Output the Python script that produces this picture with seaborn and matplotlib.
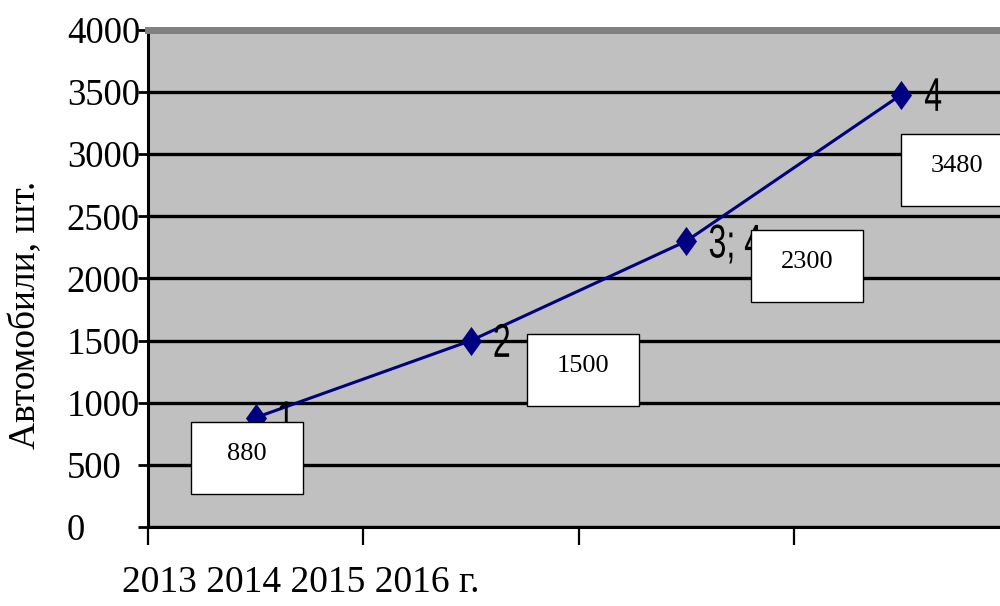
import numpy as np
import pandas as pd
import matplotlib
matplotlib.use("Agg")
import matplotlib.pyplot as plt
import seaborn as sns
from matplotlib.offsetbox import DrawingArea, AnnotationBbox
from matplotlib.patches import Rectangle, PathPatch
from matplotlib.text import Text
from matplotlib.textpath import TextPath
from matplotlib.font_manager import FontProperties
from matplotlib.transforms import Affine2D

years = ["2013", "2014", "2015", "2016"]
cars = [880, 1500, 2300, 3480]
point_names = ["1", "2", "3; 4", "4"]
y_ticks = [0, 500, 1000, 1500, 2000, 2500, 3000, 3500, 4000]
y_title = "Автомобили, шт."
x_title = " ".join(years) + " г."

# offsets (points) of each value box centre from its marker
box_offsets = [(-6, -29), (81, -21), (87, -18), (40, -54)]

sns.set_theme(style="white")
plt.rcParams["font.family"] = ["Liberation Serif", "DejaVu Serif"]

fig = plt.figure(figsize=(10, 6.06), dpi=100)
ax = fig.add_axes([0.148, 0.1304, 0.861, 0.8201])
ax.set_facecolor("#C0C0C0")

df = pd.DataFrame({"pos": np.arange(len(years)), "cars": cars})

diamond = [(0, 1), (0.72, 0), (0, -1), (-0.72, 0), (0, 1)]
sns.lineplot(data=df, x="pos", y="cars", ax=ax, color="#000080", lw=2.2,
             marker=diamond, markersize=21, markeredgewidth=0, zorder=3)

ax.set_xlim(-0.5, len(years) - 0.5)
ax.set_ylim(y_ticks[0], y_ticks[-1])
ax.set_xticks(np.arange(len(years) + 1) - 0.5)
ax.set_xticklabels([])
ax.set_yticks(y_ticks)
ax.set_yticklabels([str(t) for t in y_ticks])
ax.set_xlabel("")
ax.set_ylabel("")

ax.yaxis.grid(True, color="black", lw=2.4)
ax.xaxis.grid(False)
ax.set_axisbelow(True)

ax.tick_params(axis="y", left=True, direction="out", length=7.5, width=2,
               labelsize=26.5, pad=51, colors="black")
for lab in ax.get_yticklabels():
    lab.set_horizontalalignment("left")
ax.tick_params(axis="x", bottom=True, direction="out", length=13, width=1.6,
               colors="black")

for side in ["left", "bottom"]:
    ax.spines[side].set_color("black")
    ax.spines[side].set_linewidth(2.2)
ax.spines["top"].set_color("#808080")
ax.spines["top"].set_linewidth(5)
ax.spines["right"].set_visible(False)

# point names beside the markers, in a narrow sans face
name_prop = FontProperties(family="Liberation Sans")
name_size = 34
cap_h = TextPath((0, 0), "4", size=name_size, prop=name_prop).get_extents().height
for i, (v, name) in enumerate(zip(cars, point_names)):
    tp = TextPath((0, 0), name, size=name_size, prop=name_prop)
    path = Affine2D().scale(0.68, 1.0).transform_path(tp)
    ext = path.get_extents()
    path = Affine2D().translate(-ext.x0, 0).transform_path(path)
    da = DrawingArea(ext.width, cap_h, 0, 0)
    da.add_artist(PathPatch(path, facecolor="black", edgecolor="none"))
    ab = AnnotationBbox(da, (i, v), xybox=(17, 0), boxcoords="offset points",
                        frameon=False, pad=0, box_alignment=(0, 0.5),
                        annotation_clip=False, zorder=4)
    ax.add_artist(ab)

# value boxes
bw, bh = 80.6, 51.8
for i, (v, off) in enumerate(zip(cars, box_offsets)):
    da = DrawingArea(bw, bh, 0, 0)
    da.add_artist(Rectangle((0, 0), bw, bh, facecolor="white",
                            edgecolor="black", lw=1.0))
    da.add_artist(Text(bw / 2, 24.5, str(v), ha="center", va="baseline",
                       fontsize=19, family="Liberation Serif", color="black"))
    ab = AnnotationBbox(da, (i, v), xybox=off, boxcoords="offset points",
                        frameon=False, pad=0, box_alignment=(0.5, 0.5),
                        annotation_clip=False, zorder=5)
    ax.add_artist(ab)

fig.text(0.026, (606 - 315) / 606, y_title, rotation=90, ha="center",
         va="center", fontsize=27, color="black")
fig.text(0.122, (606 - 583) / 606, x_title, ha="left", va="center",
         fontsize=27, color="black")

fig.savefig("out.png", dpi=100)
